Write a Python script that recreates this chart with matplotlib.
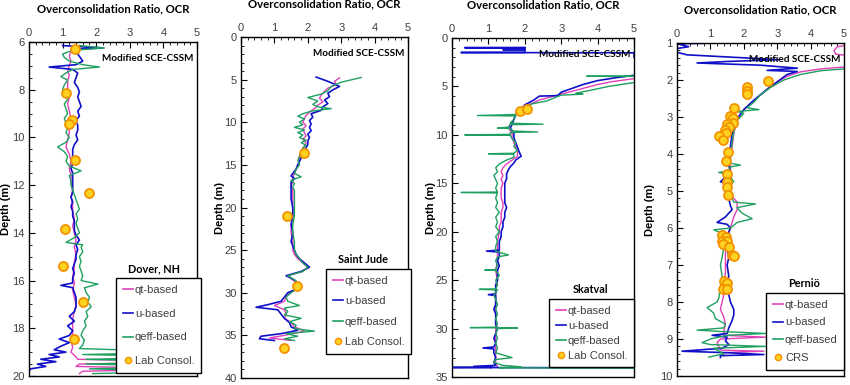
import matplotlib
matplotlib.use('Agg')
import matplotlib.pyplot as plt
from matplotlib.ticker import MultipleLocator

plt.rcParams['font.family'] = ['Liberation Sans', 'DejaVu Sans']
BOLDF = ['Lato', 'DejaVu Sans']

# ---------------- Dover, NH ----------------
dover_qt_depth = [6.2, 6.4, 6.6, 6.8, 7.0, 7.2, 7.4, 7.6, 7.8, 8.0, 8.3, 8.6, 8.9, 9.2, 9.5, 9.8, 10.1, 10.4, 10.7,
                  11.0, 11.3, 11.6, 11.9, 12.2, 12.5, 12.8, 13.1, 13.4, 13.7, 14.0, 14.3, 14.6, 14.9, 15.2, 15.5,
                  15.8, 16.1, 16.4, 16.7, 17.0, 17.3, 17.6, 17.9, 18.2, 18.5, 18.8, 19.0, 19.2, 19.3, 19.4, 19.5,
                  19.6, 19.7, 19.8, 19.9]
dover_qt_ocr = [1.3, 1.25, 1.2, 1.25, 1.2, 1.15, 1.2, 1.15, 1.15, 1.15, 1.2, 1.15, 1.2, 1.25, 1.2, 1.2, 1.15, 1.1, 1.2,
                1.25, 1.2, 1.25, 1.25, 1.3, 1.25, 1.3, 1.3, 1.35, 1.3, 1.35, 1.4, 1.35, 1.4, 1.35, 1.35,
                1.3, 1.35, 1.3, 1.35, 1.4, 1.35, 1.3, 1.3, 1.3, 1.25, 1.3, 1.25, 1.4, 1.45, 5.0, 1.5,
                1.4, 5.0, 1.6, 1.5]
dover_u_depth = [6.15, 6.25, 6.3, 6.4, 6.6, 6.8, 6.95, 7.05, 7.15, 7.3, 7.5, 7.7, 7.9, 8.1, 8.3, 8.5, 8.7, 8.9, 9.1,
                 9.3, 9.5, 9.7, 9.9, 10.1, 10.3, 10.5, 10.7, 10.9, 11.1, 11.3, 11.5, 11.7, 11.9, 12.1, 12.3, 12.5,
                 12.7, 12.9, 13.1, 13.3, 13.5, 13.7, 13.9, 14.1, 14.3, 14.5, 14.7, 14.9, 15.1, 15.3, 15.5, 15.7,
                 15.9, 16.1, 16.2, 16.3, 16.5, 16.7, 16.9, 17.1, 17.3, 17.5, 17.7, 17.9, 18.1, 18.3, 18.45, 18.6,
                 18.75, 18.9, 19.0, 19.1, 19.2, 19.3, 19.4, 19.5, 19.6, 19.7, 19.8]
dover_u_ocr = [1.0, 2.2, 1.3, 1.4, 1.5, 1.6, 1.4, 0.6, 1.3, 1.45, 1.4, 1.35, 1.45, 1.5, 1.45, 1.5, 1.55, 1.45, 1.5,
               1.4, 1.45, 1.45, 1.4, 1.45, 1.35, 1.3, 1.3, 1.3, 1.3, 1.25, 1.3, 1.3, 1.3, 1.3, 1.3, 1.25,
               1.3, 1.25, 1.3, 1.3, 1.35, 1.35, 1.35, 1.4, 1.5, 1.4, 1.45, 1.4, 1.4, 1.35, 1.3, 1.35,
               1.3, 1.3, 0.95, 1.3, 1.35, 1.4, 1.4, 1.4, 1.35, 1.2, 1.35, 1.15, 1.3, 1.2, 0.9, 1.2,
               0.95, 0.75, 1.1, 0.6, 0.9, 0.35, 0.8, 0.25, 0.5, 0.05, 0.0]
dover_qeff_depth = [6.15, 6.25, 6.35, 6.5, 6.65, 6.8, 6.95, 7.05, 7.15, 7.3, 7.45, 7.6, 7.8, 8.0, 8.2, 8.4, 8.6,
                    8.8, 9.0, 9.2, 9.4, 9.6, 9.8, 10.0, 10.2, 10.4, 10.6, 10.8, 11.0, 11.2, 11.4, 11.6, 11.8, 12.0,
                    12.2, 12.4, 12.6, 12.8, 13.0, 13.2, 13.4, 13.6, 13.8, 14.0, 14.2, 14.4, 14.5, 14.6, 14.8, 15.0,
                    15.2, 15.4, 15.6, 15.8, 16.0, 16.15, 16.3, 16.5, 16.7, 16.9, 17.1, 17.3, 17.5, 17.7, 17.9,
                    18.1, 18.3, 18.5, 18.7, 18.85, 19.0, 19.1, 19.2, 19.3, 19.4, 19.5, 19.6, 19.7, 19.8, 19.9]
dover_qeff_ocr = [1.5, 2.25, 1.3, 1.0, 1.05, 1.2, 1.6, 2.1, 1.3, 1.1, 0.95, 1.15, 1.05, 1.0, 1.1, 1.15, 1.05,
                  1.1, 1.15, 1.05, 1.1, 1.15, 1.1, 1.2, 1.1, 0.85, 1.05, 1.15, 1.1, 1.2, 1.55, 1.2, 1.25, 1.25,
                  1.3, 1.35, 1.4, 1.45, 1.5, 1.4, 1.45, 1.4, 1.45, 1.5, 1.35, 1.1, 1.6, 1.55, 1.6, 1.5,
                  1.55, 1.5, 1.55, 1.6, 1.55, 2.05, 1.65, 1.7, 1.8, 1.75, 1.85, 1.7, 1.75, 1.65, 1.7,
                  1.6, 1.55, 1.65, 1.6, 1.5, 5.0, 1.6, 5.0, 1.7, 5.0, 1.7, 5.0, 1.8, 5.0, 1.9]
dover_lab_depth = [6.3, 8.15, 9.25, 9.45, 10.95, 12.35, 13.85, 15.4, 16.9, 18.45]
dover_lab_ocr = [1.38, 1.1, 1.28, 1.2, 1.38, 1.8, 1.08, 1.02, 1.6, 1.35]

# ---------------- Saint Jude ----------------
jude_qt_depth = [4.8, 5.2, 5.6, 6.0, 6.4, 6.8, 7.2, 7.6, 8.0, 8.4, 8.8, 9.2, 9.6, 10.0, 10.4, 10.8, 11.2, 11.6,
                 12.0, 12.4, 12.8, 13.2, 13.6, 14.0, 14.5, 15.0, 15.5, 16.0, 16.5, 17.0, 17.5, 18.0, 19.0, 20.0,
                 21.0, 22.0, 23.0, 24.0, 25.0, 25.5, 26.0, 26.5, 27.0, 27.5, 28.0, 28.5, 29.0, 29.5, 30.0, 30.5,
                 31.0, 31.5, 32.0, 32.5, 33.0, 33.5, 34.0, 34.5, 35.0, 35.3, 35.6]
jude_qt_ocr = [2.95, 2.8, 2.85, 2.6, 2.5, 2.4, 2.35, 2.45, 2.3, 2.2, 2.05, 1.95, 1.9, 1.85, 1.95, 1.85, 1.9, 1.95,
               1.85, 1.95, 1.9, 1.85, 1.8, 1.75, 1.75, 1.7, 1.65, 1.6, 1.55, 1.55, 1.5, 1.55, 1.55, 1.55,
               1.55, 1.5, 1.5, 1.55, 1.55, 1.6, 1.7, 1.85, 2.0, 1.85, 1.4, 1.55, 1.75, 1.7, 1.45, 1.35,
               1.3, 1.0, 1.3, 1.35, 1.3, 1.5, 1.6, 1.9, 1.3, 0.85, 1.5]
jude_u_depth = [4.7, 5.2, 5.8, 6.2, 6.6, 7.0, 7.4, 7.8, 8.2, 8.6, 9.0, 9.4, 9.8, 10.2, 10.6, 11.0, 11.4, 11.8,
                12.2, 12.6, 13.0, 13.4, 13.8, 14.2, 14.6, 15.0, 15.5, 16.0, 16.3, 16.6, 17.0, 17.5, 18.0, 19.0,
                20.0, 21.0, 22.0, 23.0, 24.0, 25.0, 25.5, 26.0, 26.5, 27.0, 27.5, 28.0, 28.5, 29.0, 29.5, 30.0,
                30.5, 31.0, 31.4, 31.7, 32.0, 32.5, 33.0, 33.5, 34.0, 34.4, 34.8, 35.1, 35.4, 35.6]
jude_u_ocr = [2.25, 2.6, 2.95, 2.75, 2.6, 2.65, 2.5, 2.6, 2.45, 2.4, 2.1, 2.15, 2.05, 2.1, 2.05, 2.1, 2.0, 2.05,
              2.0, 2.0, 1.95, 1.9, 1.85, 1.8, 1.75, 1.7, 1.65, 1.55, 1.5, 1.6, 1.5, 1.5, 1.5, 1.5,
              1.55, 1.55, 1.5, 1.55, 1.5, 1.6, 1.65, 1.75, 1.9, 2.05, 1.8, 1.35, 1.6, 1.75, 1.7, 1.4,
              1.3, 1.2, 0.8, 0.45, 1.1, 1.2, 1.3, 1.45, 1.5, 1.7, 1.2, 0.6, 0.55, 1.0]
jude_qeff_depth = [4.75, 5.3, 5.8, 6.3, 6.7, 7.1, 7.5, 7.9, 8.2, 8.4, 8.7, 9.0, 9.3, 9.6, 10.0, 10.3, 10.6, 10.9,
                   11.2, 11.5, 11.8, 12.1, 12.4, 12.7, 13.0, 13.5, 14.0, 14.5, 15.0, 15.5, 16.0, 16.4, 16.8, 17.2,
                   17.6, 18.0, 19.0, 20.0, 21.0, 22.0, 23.0, 24.0, 25.0, 25.5, 26.0, 26.5, 27.0, 27.5, 28.0, 28.5,
                   29.0, 29.5, 30.0, 30.5, 31.0, 31.5, 31.8, 32.2, 32.6, 33.0, 33.4, 33.8, 34.2, 34.5, 34.8, 35.1,
                   35.4, 35.6]
jude_qeff_ocr = [3.6, 3.0, 2.7, 2.6, 2.4, 2.0, 2.3, 2.15, 2.3, 2.7, 2.1, 1.85, 1.7, 1.9, 1.75, 1.85, 1.6, 1.9,
                 1.7, 1.85, 1.75, 1.95, 1.8, 1.95, 1.85, 1.8, 1.75, 1.7, 1.75, 1.65, 1.6, 1.8, 1.5, 1.6,
                 1.55, 1.6, 1.6, 1.6, 1.6, 1.55, 1.55, 1.6, 1.6, 1.65, 1.75, 1.85, 2.0, 1.85, 1.4, 1.6,
                 1.75, 1.7, 1.5, 1.35, 1.4, 1.75, 1.3, 1.4, 1.3, 1.8, 1.45, 1.65, 1.6, 2.2, 1.35, 1.7,
                 1.3, 1.6]
jude_lab_depth = [13.55, 21.0, 29.2, 36.5]
jude_lab_ocr = [1.9, 1.38, 1.69, 1.3]

# ---------------- Skatval ----------------
skat_qt_depth = [4.1, 4.2, 4.5, 4.8, 5.2, 5.6, 6.0, 6.4, 6.9, 7.4, 7.9, 8.4, 8.9, 9.3, 9.8, 10.3, 10.8, 11.3,
                 11.8, 12.2, 12.6, 13.0, 13.4, 13.8, 14.2, 14.6, 15.0, 15.5, 16.0, 16.5, 17.0, 17.5, 18.0, 18.5,
                 19.0, 19.5, 20.0, 21.0, 22.0, 23.0, 24.0, 25.0, 26.0, 27.0, 28.0, 29.0, 30.0, 31.0, 32.0, 33.0,
                 33.5, 34.0]
skat_qt_ocr = [6.0, 5.0, 4.4, 4.0, 3.6, 3.2, 2.8, 2.4, 2.1, 1.9, 1.75, 1.7, 1.6, 1.55, 1.65, 1.65, 1.7, 1.75,
               1.8, 1.8, 1.65, 1.5, 1.4, 1.35, 1.4, 1.35, 1.4, 1.35, 1.35, 1.35, 1.4, 1.4, 1.35, 1.35,
               1.35, 1.3, 1.3, 1.25, 1.25, 1.25, 1.2, 1.25, 1.2, 1.2, 1.2, 1.2, 1.2, 1.2, 1.2, 1.2,
               1.2, 1.25]
skat_u_depth = [0.98, 1.0, 1.02, 1.18, 1.2, 1.22, 1.48, 1.5, 1.53, 2.0, 2.1, 3.7, 3.85, 4.1, 4.4, 4.8, 5.2, 5.6,
                5.95, 6.0, 6.4, 6.9, 7.4, 7.9, 8.4, 8.9, 9.3, 9.8, 10.3, 10.8, 11.3, 11.8, 12.2, 12.6, 12.9, 13.3,
                13.6, 14.0, 14.5, 15.0, 15.5, 16.0, 16.5, 17.0, 17.5, 18.0, 18.5, 19.0, 19.5, 20.0, 20.5, 21.0,
                21.5, 21.9, 22.0, 22.1, 22.5, 23.0, 23.5, 24.0, 24.5, 25.0, 25.5, 26.0, 26.4, 26.5, 26.6, 27.0,
                27.5, 28.0, 28.5, 29.0, 29.5, 30.0, 30.5, 31.0, 31.5, 31.9, 32.0, 32.1, 32.5, 33.0, 33.5, 33.8,
                33.9, 34.0, 34.02, 34.05]
skat_u_ocr = [2.0, 0.35, 2.0, 2.0, 1.4, 2.0, 2.0, 0.25, 5.0, 5.0, 9.0, 9.0, 5.0, 4.5, 4.0, 3.6, 3.3, 3.0,
              2.9, 2.4, 2.25, 2.0, 1.9, 1.75, 1.7, 1.65, 1.6, 1.7, 1.7, 1.75, 1.8, 1.85, 1.9, 1.75, 1.7, 1.6,
              1.55, 1.5, 1.5, 1.45, 1.45, 1.45, 1.45, 1.45, 1.5, 1.45, 1.45, 1.4, 1.4, 1.35, 1.35, 1.3,
              1.3, 1.3, 0.95, 1.3, 1.3, 1.25, 1.3, 1.25, 1.25, 1.25, 1.2, 1.2, 1.2, 1.0, 1.2, 1.2,
              1.2, 1.15, 1.2, 1.2, 1.2, 1.25, 1.2, 1.15, 1.2, 1.15, 0.85, 1.15, 1.15, 1.2, 1.15, 1.2,
              0.6, 1.1, -0.5, 6.0]
skat_qeff_depth = [3.93, 3.95, 3.98, 4.5, 4.6, 5.0, 5.4, 5.7, 5.8, 5.9, 6.2, 6.5, 6.8, 7.0, 7.3, 7.6, 7.9, 8.0,
                   8.05, 8.4, 8.8, 8.9, 8.95, 9.2, 9.3, 9.35, 9.6, 9.7, 9.75, 9.95, 10.0, 10.05, 10.4, 10.8, 11.2,
                   11.6, 11.9, 11.95, 12.0, 12.3, 12.6, 13.0, 13.4, 13.8, 14.2, 14.6, 15.0, 15.5, 15.9, 15.95,
                   16.0, 16.5, 17.0, 17.5, 18.0, 18.5, 19.0, 19.5, 20.0, 20.5, 21.0, 21.5, 22.0, 22.4, 22.6,
                   23.0, 23.5, 23.9, 23.95, 24.0, 24.5, 25.0, 25.5, 25.9, 25.95, 26.0, 26.5, 27.0, 27.5, 28.0,
                   28.5, 29.0, 29.5, 29.85, 29.9, 29.95, 30.0, 30.5, 31.0, 31.5, 32.0, 32.5, 33.0, 33.2, 33.5,
                   33.8, 33.95, 34.05, 34.1]
skat_qeff_ocr = [6.0, 3.7, 6.0, 6.0, 5.0, 4.3, 3.8, 3.4, 3.6, 3.0, 2.8, 2.6, 2.2, 2.1, 2.0, 1.9, 1.75, 0.7,
                 1.75, 1.7, 1.6, 2.5, 1.6, 1.55, 1.25, 1.6, 1.65, 2.35, 1.6, 1.6, 0.35, 1.6, 1.65, 1.75, 1.7,
                 1.8, 1.7, 1.0, 1.7, 1.7, 1.5, 1.3, 1.2, 1.25, 1.15, 1.2, 1.25, 1.2, 1.25, 0.25,
                 1.25, 1.2, 1.25, 1.2, 1.3, 1.2, 1.25, 1.2, 1.3, 1.2, 1.25, 1.2, 1.2, 1.55, 1.25,
                 1.2, 1.25, 1.2, 0.9, 1.2, 1.3, 1.2, 1.25, 1.2, 0.75, 1.25, 1.15, 1.2, 1.25, 1.2,
                 1.25, 1.2, 1.25, 1.2, 0.5, 1.8, 1.25, 1.2, 1.25, 1.2, 1.25, 1.2, 1.65, 1.2, 1.15,
                 1.4, 1.9, 1.3, 6.0]
skat_lab_depth = [7.55, 7.37]
skat_lab_ocr = [1.88, 2.05]

# ---------------- Pernio ----------------
pern_qt_depth = [1.05, 1.1, 1.2, 1.3, 1.35, 1.6, 1.65, 1.7, 1.78, 1.9, 2.05, 2.25, 2.55, 2.8, 3.05, 3.45, 3.8,
                 4.1, 4.5, 4.8, 5.1, 5.3, 5.5, 5.7, 6.0, 6.3, 6.6, 6.9, 7.2, 7.5, 7.8, 8.0, 8.2, 8.4, 8.6, 8.8,
                 8.9, 8.95, 9.0, 9.1, 9.2, 9.3, 9.33, 9.37, 9.45]
pern_qt_ocr = [5.2, 4.8, 4.7, 4.75, 5.2, 5.5, 5.0, 4.3, 3.7, 3.3, 3.0, 2.7, 2.3, 2.0, 1.8, 1.7, 1.65,
               1.6, 1.6, 1.6, 1.6, 1.8, 1.8, 1.7, 1.6, 1.5, 1.45, 1.45, 1.45, 1.4, 1.4, 1.35, 1.3, 1.4, 1.45, 1.4,
               1.4, 2.65, 1.3, 1.2, 1.25, 1.3, 2.6, 1.4, 1.4]
pern_u_depth = [1.0, 1.02, 1.1, 1.15, 1.25, 1.32, 1.45, 1.5, 1.54, 1.6, 1.68, 1.74, 1.77, 1.85, 2.05, 2.25, 2.55,
                2.8, 3.05, 3.45, 3.8, 4.0, 4.3, 4.5, 4.75, 4.8, 5.0, 5.2, 5.4, 5.5, 5.7, 5.85, 5.9, 6.0, 6.2,
                6.5, 6.8, 7.0, 7.3, 7.6, 7.8, 8.0, 8.2, 8.35, 8.5, 8.7, 8.85, 8.9, 8.95, 9.05, 9.15, 9.25, 9.33,
                9.37, 9.42, 9.45, 9.5]
pern_u_ocr = [1.3, 0.0, 0.35, 0.0, 0.0, 0.3, 3.05, 1.5, 0.6, 2.5, 3.6, 2.7, 3.6, 3.3, 3.0, 2.7, 2.3,
              2.0, 1.8, 1.65, 1.6, 1.55, 1.55, 1.6, 1.3, 1.55, 1.5, 1.55, 1.6, 1.65, 1.45, 1.2, 1.5, 1.6, 1.5,
              1.5, 1.55, 1.5, 1.55, 1.5, 1.55, 1.6, 1.7, 1.7, 1.65, 1.55, 1.5, 1.05, 1.5, 1.45, 1.55, 1.35, 0.15,
              1.5, 2.6, 1.3, 1.3]
pern_qeff_depth = [1.6, 1.7, 1.75, 1.85, 2.0, 2.2, 2.4, 2.6, 2.75, 2.8, 2.85, 2.9, 3.1, 3.4, 3.7, 4.0, 4.25,
                   4.3, 4.35, 4.45, 4.5, 4.55, 4.75, 4.85, 5.1, 5.3, 5.35, 5.45, 5.6, 5.75, 5.85, 6.0, 6.05, 6.2,
                   6.5, 6.8, 7.0, 7.3, 7.6, 7.9, 8.0, 8.15, 8.3, 8.45, 8.6, 8.7, 8.76, 8.8, 8.85, 8.9, 9.0, 9.1,
                   9.15, 9.2, 9.25, 9.35, 9.4, 9.49]
pern_qeff_ocr = [5.5, 5.0, 4.3, 3.7, 3.2, 2.8, 2.5, 2.3, 2.1, 2.45, 1.8, 2.0, 1.8, 1.7, 1.65, 1.6, 1.6,
                 1.9, 1.6, 1.55, 1.25, 1.55, 1.7, 1.55, 1.6, 1.7, 2.35, 1.8, 1.95, 2.25, 1.8, 1.6, 1.1, 1.5,
                 1.4, 1.35, 1.3, 1.35, 1.3, 1.25, 1.2, 0.9, 1.1, 1.15, 1.45, 1.4, 0.6, 1.4, 2.65, 1.5, 1.0, 0.75,
                 1.0, 2.65, 1.1, 1.3, 1.4, 0.95]
pern_crs_depth = [2.03, 2.2, 2.3, 2.39, 2.75, 2.97, 3.04, 3.15, 3.19, 3.28, 3.35, 3.44, 3.5, 3.62, 3.94, 4.18,
                  4.54, 4.77, 4.9, 5.1, 6.18, 6.23, 6.36, 6.36, 6.42, 6.5, 6.72, 6.75, 7.42, 7.49, 7.65, 7.65]
pern_crs_ocr = [2.72, 2.11, 2.11, 2.09, 1.71, 1.59, 1.69, 1.67, 1.51, 1.57, 1.44, 1.47, 1.27, 1.39, 1.54, 1.46,
                1.51, 1.51, 1.51, 1.53, 1.34, 1.47, 1.34, 1.51, 1.39, 1.57, 1.64, 1.71, 1.41, 1.51, 1.37, 1.49]

C_QT = '#E040B8'
C_U = '#1010C8'
C_QEFF = '#1FA060'
LAB_FACE = '#FFD21F'
LAB_EDGE = '#F39200'
TXT = '#404040'

fig = plt.figure(figsize=(8.5, 3.85), dpi=100)
W, H = 850.0, 385.0


def make_ax(l, r, t, b):
    return fig.add_axes([l / W, (H - b) / H, (r - l) / W, (b - t) / H])


def panel(ax, qt, u, qeff, lab, ylim, ymaj, ymin, site, labname, leg_box, leg_spacing, ylab_x):
    ax.plot(qt[1], qt[0], color=C_QT, lw=1.0)
    ax.plot(u[1], u[0], color=C_U, lw=1.2)
    ax.plot(qeff[1], qeff[0], color=C_QEFF, lw=1.0)
    ax.plot(lab[1], lab[0], 'o', ms=6.5, mfc=LAB_FACE, mec=LAB_EDGE, mew=1.3, zorder=5)
    ax.set_xlim(0, 5)
    ax.set_ylim(ylim[1], ylim[0])
    ax.xaxis.set_major_locator(MultipleLocator(1))
    ax.xaxis.set_minor_locator(MultipleLocator(0.2))
    ax.yaxis.set_major_locator(MultipleLocator(ymaj))
    ax.yaxis.set_minor_locator(MultipleLocator(ymin))
    ax.tick_params(which='both', direction='in', top=True, bottom=False, left=True, right=False,
                   labeltop=True, labelbottom=False, labelsize=8, labelcolor=TXT, pad=3)
    ax.tick_params(which='major', length=4, width=0.8)
    ax.tick_params(which='minor', length=2, width=0.6)
    for s in ax.spines.values():
        s.set_linewidth(1.0)
    ax.set_title('Overconsolidation Ratio, OCR', fontsize=8.2, fontweight='bold', pad=21, family=BOLDF)
    ax.text(0.98, 0.965, 'Modified SCE-CSSM', transform=ax.transAxes, ha='right', va='top',
            fontsize=7.2, fontweight='bold', family=BOLDF)
    # legend placed by its pixel box in the reference
    lx0, ly0, lx1, ly1 = leg_box
    x0, x1 = ax.get_position().x0 * W, ax.get_position().x1 * W
    y0, y1 = (1 - ax.get_position().y1) * H, (1 - ax.get_position().y0) * H
    bx = (lx0 - x0) / (x1 - x0)
    by = 1 - (ly0 - y0) / (y1 - y0)
    h1, = ax.plot([], [], color=C_QT, lw=1.2)
    h2, = ax.plot([], [], color=C_U, lw=1.2)
    h3, = ax.plot([], [], color=C_QEFF, lw=1.2)
    h4, = ax.plot([], [], 'o', ms=4.5, mfc=LAB_FACE, mec=LAB_EDGE, mew=1.0)
    leg = ax.legend([h1, h2, h3, h4], ['qt-based', 'u-based', 'qeff-based', labname],
                    loc='upper left', bbox_to_anchor=(bx, by), borderaxespad=0, fontsize=8,
                    handlelength=0.9, handletextpad=0.2, labelspacing=leg_spacing,
                    fancybox=False, framealpha=1, edgecolor='black', borderpad=0.6)
    leg.get_frame().set_linewidth(1.0)
    for t in leg.get_texts():
        t.set_color(TXT)
    ax.text(((lx0 + lx1) / 2 - x0) / (x1 - x0), by + 0.012, site, transform=ax.transAxes,
            ha='center', va='bottom', fontsize=7.8, fontweight='bold', family=BOLDF)
    yc = (y0 + y1) / 2
    fig.text(ylab_x / W, 1 - yc / H, 'Depth (m)', rotation=90, ha='center', va='center',
             fontsize=8, fontweight='bold')


ax1 = make_ax(29, 197, 42, 376)
panel(ax1, (dover_qt_depth, dover_qt_ocr), (dover_u_depth, dover_u_ocr),
      (dover_qeff_depth, dover_qeff_ocr), (dover_lab_depth, dover_lab_ocr),
      (6, 20), 2, 0.5, 'Dover, NH', 'Lab Consol.', (116, 278, 192, 374), 1.25, 6)

ax2 = make_ax(241, 408, 37, 378)
panel(ax2, (jude_qt_depth, jude_qt_ocr), (jude_u_depth, jude_u_ocr),
      (jude_qeff_depth, jude_qeff_ocr), (jude_lab_depth, jude_lab_ocr),
      (0, 40), 5, 1, 'Saint Jude', 'Lab Consol.', (326, 269, 399, 354), 0.95, 220)

ax3 = make_ax(452, 634, 38, 377)
panel(ax3, (skat_qt_depth, skat_qt_ocr), (skat_u_depth, skat_u_ocr),
      (skat_qeff_depth, skat_qeff_ocr), (skat_lab_depth, skat_lab_ocr),
      (0, 35), 5, 1, 'Skatval', 'Lab Consol.', (549, 299, 632, 363), 0.45, 431)

ax4 = make_ax(677, 844, 43, 376)
panel(ax4, (pern_qt_depth, pern_qt_ocr), (pern_u_depth, pern_u_ocr),
      (pern_qeff_depth, pern_qeff_ocr), (pern_crs_depth, pern_crs_ocr),
      (1, 10), 1, 0.2, 'Perniö', 'CRS', (766, 293, 843, 367), 0.7, 650)

fig.savefig('out.png', dpi=100)
